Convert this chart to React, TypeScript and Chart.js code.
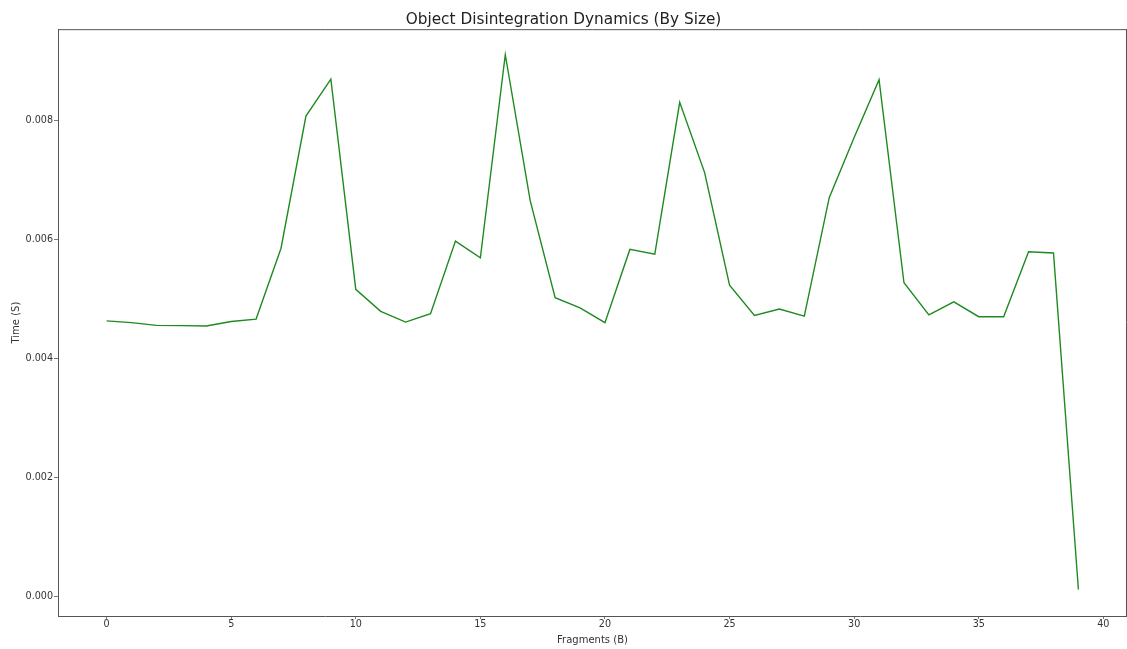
import React, { useEffect, useRef } from "react";
import { Chart, registerables } from "chart.js";

Chart.register(...registerables);

const TITLE = "Object Disintegration Dynamics (By Size)";
const X_LABEL = "Fragments (B)";
const Y_LABEL = "Time (S)";

const fragments = [
  0, 1, 2, 3, 4, 5, 6, 7, 8, 9, 10, 11, 12, 13, 14, 15, 16, 17, 18, 19,
  20, 21, 22, 23, 24, 25, 26, 27, 28, 29, 30, 31, 32, 33, 34, 35, 36, 37, 38, 39,
];

const times = [
  0.00463, 0.0046, 0.004555, 0.00455, 0.004545, 0.00462, 0.00466, 0.00585, 0.00807, 0.00869,
  0.00516, 0.00479, 0.00461, 0.00475, 0.00597, 0.00569, 0.0091, 0.00665, 0.00502, 0.00485,
  0.0046, 0.00583, 0.00575, 0.0083, 0.00712, 0.00523, 0.00472, 0.00483, 0.00471, 0.0067,
  0.00771, 0.00868, 0.00527, 0.00473, 0.00495, 0.0047, 0.0047, 0.00579, 0.00577, 0.00012,
];

const xTicks = [0, 5, 10, 15, 20, 25, 30, 35, 40];
const yTicks = [0, 0.002, 0.004, 0.006, 0.008];

const frame = {
  id: "frame",
  afterDatasetsDraw(chart: any) {
    const { ctx, chartArea } = chart;
    ctx.save();
    ctx.strokeStyle = "#555";
    ctx.lineWidth = 1;
    ctx.beginPath();
    ctx.moveTo(chartArea.left, chartArea.top + 0.5);
    ctx.lineTo(chartArea.right, chartArea.top + 0.5);
    ctx.moveTo(chartArea.right - 0.5, chartArea.top);
    ctx.lineTo(chartArea.right - 0.5, chartArea.bottom);
    ctx.stroke();
    ctx.restore();
  },
};

function setTicks(values: number[]) {
  return (axis: any) => {
    axis.ticks = values.map((v) => ({ value: v }));
  };
}

export default function App() {
  const ref = useRef<HTMLCanvasElement | null>(null);

  useEffect(() => {
    if (!ref.current) return;
    const chart = new Chart(ref.current, {
      type: "line",
      data: {
        datasets: [
          {
            data: fragments.map((f, i) => ({ x: f, y: times[i] })),
            borderColor: "#1f8a1f",
            borderWidth: 1.4,
            pointRadius: 0,
            tension: 0,
            fill: false,
          },
        ],
      },
      options: {
        responsive: false,
        animation: false,
        layout: { padding: { left: 0, right: 0, top: 0, bottom: 0 } },
        plugins: {
          legend: { display: false },
          tooltip: { enabled: false },
          title: {
            display: true,
            text: TITLE,
            color: "#222",
            font: { family: "DejaVu Sans", size: 15.3, weight: "normal" },
            padding: { top: 10.8, bottom: 0 },
          },
        },
        scales: {
          x: {
            type: "linear",
            min: -1.95,
            max: 40.95,
            afterBuildTicks: setTicks(xTicks),
            afterFit: (s: any) => {
              s.height = 33;
            },
            ticks: {
              color: "#333",
              font: { family: "DejaVu Sans", size: 9.6 },
              padding: 0,
              maxRotation: 0,
              autoSkip: false,
              callback: (v: any) => String(v),
            },
            grid: {
              display: true,
              drawOnChartArea: false,
              drawTicks: true,
              tickLength: 3,
              color: "#777",
            },
            border: { display: true, color: "#555", width: 1 },
            title: {
              display: true,
              text: X_LABEL,
              color: "#333",
              font: { family: "DejaVu Sans", size: 10 },
              padding: { top: 0, bottom: 3 },
            },
          },
          y: {
            type: "linear",
            min: -0.000326,
            max: 0.009529,
            afterBuildTicks: setTicks(yTicks),
            afterFit: (s: any) => {
              s.width = 58;
            },
            ticks: {
              color: "#333",
              font: { family: "DejaVu Sans", size: 9.6 },
              padding: 1,
              autoSkip: false,
              callback: (v: any) => Number(v).toFixed(3),
            },
            grid: {
              display: true,
              drawOnChartArea: false,
              drawTicks: true,
              tickLength: 4,
              color: "#777",
            },
            border: { display: true, color: "#555", width: 1 },
            title: {
              display: true,
              text: Y_LABEL,
              color: "#333",
              font: { family: "DejaVu Sans", size: 10 },
              padding: { top: 10.3, bottom: 0 },
            },
          },
        },
      },
      plugins: [frame],
    });
    return () => chart.destroy();
  }, []);

  return (
    <div style={{ position: "absolute", left: 0, top: 0, width: 1127, height: 649, background: "#fff" }}>
      <canvas ref={ref} width={1127} height={649} style={{ display: "block" }} />
    </div>
  );
}
